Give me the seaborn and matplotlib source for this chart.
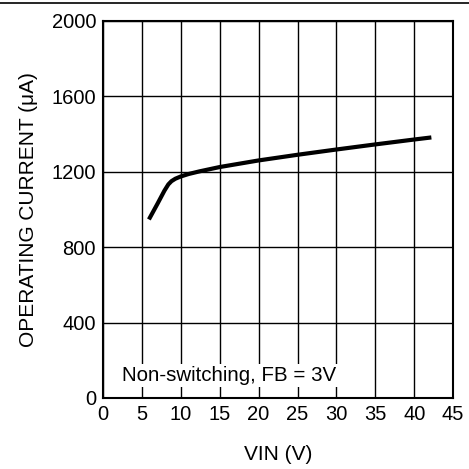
import pandas as pd
import seaborn as sns
import matplotlib.pyplot as plt

# values
vin = [5.9, 7.0, 7.9, 8.4, 8.8, 9.3, 10.0, 11.0, 12.4, 15.0, 20.0, 25.0, 30.0, 35.0, 40.0, 42.2]
current = [947, 1030, 1100, 1133, 1150, 1163, 1175, 1188, 1202, 1225, 1260, 1290, 1318, 1345, 1371, 1382]
x_ticks = [0, 5, 10, 15, 20, 25, 30, 35, 40, 45]
y_ticks = [0, 400, 800, 1200, 1600, 2000]

df = pd.DataFrame({"VIN": vin, "current": current})

sns.set_style("white")
plt.rcParams["font.family"] = ["Liberation Sans", "DejaVu Sans"]

fig = plt.figure(figsize=(4.69, 4.69), dpi=100)
ax = fig.add_axes([0.2196, 0.1514, 0.7466, 0.8040])

sns.lineplot(data=df, x="VIN", y="current", ax=ax, color="black", linewidth=3,
             solid_capstyle="butt", solid_joinstyle="round", zorder=3)

ax.set_xlim(0, 45)
ax.set_ylim(0, 2000)
ax.set_xticks(x_ticks)
ax.set_yticks(y_ticks)
ax.grid(True, color="black", linewidth=1.0)
ax.set_axisbelow(True)
for s in ax.spines.values():
    s.set_color("black")
    s.set_linewidth(1.5)
ax.tick_params(length=0, labelsize=14.5, pad=5, colors="black", labelcolor="black")

ax.set_xlabel("VIN (V)", fontsize=15, labelpad=15, color="black")
ax.set_ylabel("OPERATING CURRENT (μA)", fontsize=15, labelpad=10, color="black")

ax.text(2.5, 117, "Non-switching, FB = 3V", fontsize=14.8, va="center", ha="left",
        color="black", bbox=dict(facecolor="white", edgecolor="none", pad=1.5), zorder=4)

# thin rule across the top of the figure
fig.add_artist(plt.Line2D([0, 1], [0.994, 0.994], color="black", linewidth=1.2,
                          transform=fig.transFigure))

fig.savefig("out.png", dpi=100)
